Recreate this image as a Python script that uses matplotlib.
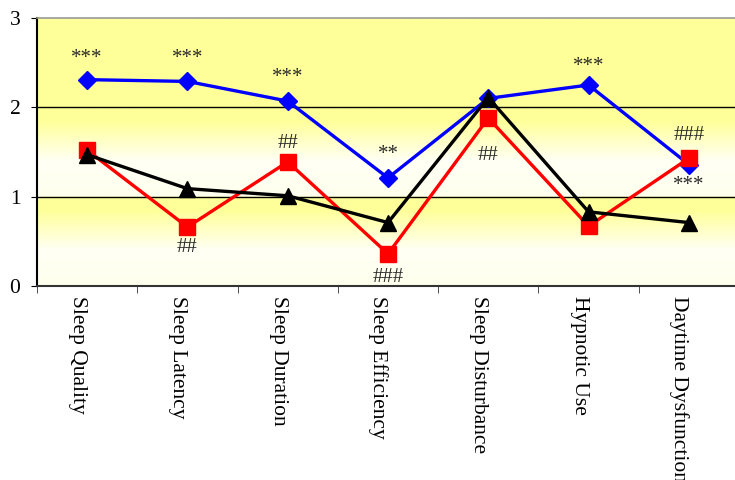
import matplotlib
matplotlib.use("Agg")
import matplotlib.pyplot as plt
import numpy as np

categories = ["Sleep Quality", "Sleep Latency", "Sleep Duration", "Sleep Efficiency",
              "Sleep Disturbance", "Hypnotic Use", "Daytime Dysfunction"]
blue_vals = [2.31, 2.29, 2.07, 1.21, 2.10, 2.25, 1.36]
red_vals = [1.52, 0.66, 1.39, 0.36, 1.88, 0.67, 1.43]
black_vals = [1.47, 1.09, 1.01, 0.71, 2.11, 0.83, 0.71]

# annotations: (category index, y value, text)
ann_idx = [0, 1, 2, 3, 1, 2, 3, 4, 5, 6, 6]
ann_y = [2.55, 2.55, 2.33, 1.47, 0.43, 1.60, 0.10, 1.46, 2.46, 1.68, 1.12]
ann_txt = ["***", "***", "***", "**", "##", "##", "###", "##", "***", "###", "***"]

yticks = [0, 1, 2, 3]

plt.rcParams['font.family'] = ['Liberation Serif', 'DejaVu Serif']

fig = plt.figure(figsize=(7.35, 4.8), dpi=100)
ax = fig.add_axes([37/735, 194/480, 702/735, 268/480])

x = np.arange(len(categories))
ax.set_xlim(-0.5, len(categories) - 0.5)
ax.set_ylim(0, 3)

# gradient background
ny = 600
yy = np.linspace(0, 3, ny)
yel = np.array([1.0, 1.0, 0.60])
wht = np.array([1.0, 1.0, 0.96])
def frac(v):
    if v >= 2:
        return 1.0
    b = v - np.floor(v)
    if b >= 0.85:
        return 1.0
    if b <= 0.40:
        return 0.08 * (0.40 - b) / 0.40
    return (b - 0.40) / 0.45
cols = np.array([wht + (yel - wht) * frac(v) for v in yy])
img = cols[:, None, :].repeat(2, axis=1)
ax.imshow(img, extent=[-0.5, len(categories) - 0.5, 0, 3], origin='lower',
          aspect='auto', zorder=0, interpolation='bilinear')

for g in [1, 2]:
    ax.axhline(g, color='black', lw=1.0, zorder=1)

ax.plot(x, blue_vals, color='#0000FF', lw=2.4, marker='D', markersize=9.5, zorder=3)
ax.plot(x, red_vals, color='#FF0000', lw=2.4, marker='s', markersize=11, zorder=4)
ax.plot(x, black_vals, color='black', lw=2.4, marker='^', markersize=12, zorder=5)

for i, yv, t in zip(ann_idx, ann_y, ann_txt):
    ax.text(x[i], yv, t, ha='center', va='center', fontsize=15, color='#2a2a2a', zorder=6)

ax.set_yticks(yticks)
ax.set_yticklabels([str(t) for t in yticks], fontsize=15.5)
ax.tick_params(axis='y', length=4, direction='out', pad=8)

ax.set_xticks(x)
ax.set_xticklabels(categories, rotation=270, fontsize=15.5, va='top', ha='right',
                   rotation_mode='default')
ax.set_xticks(np.arange(-0.5, len(categories), 1.0), minor=True)
ax.tick_params(axis='x', which='major', length=0, pad=7)
ax.tick_params(axis='x', which='minor', length=5, direction='out', color='#333333')

ax.spines['left'].set_color('black')
ax.spines['left'].set_linewidth(1.5)
ax.spines['bottom'].set_color('#333333')
ax.spines['bottom'].set_linewidth(1.5)
ax.spines['top'].set_color('#999999')
ax.spines['top'].set_linewidth(1.2)
ax.spines['right'].set_visible(False)

fig.savefig("out.png", dpi=100)
